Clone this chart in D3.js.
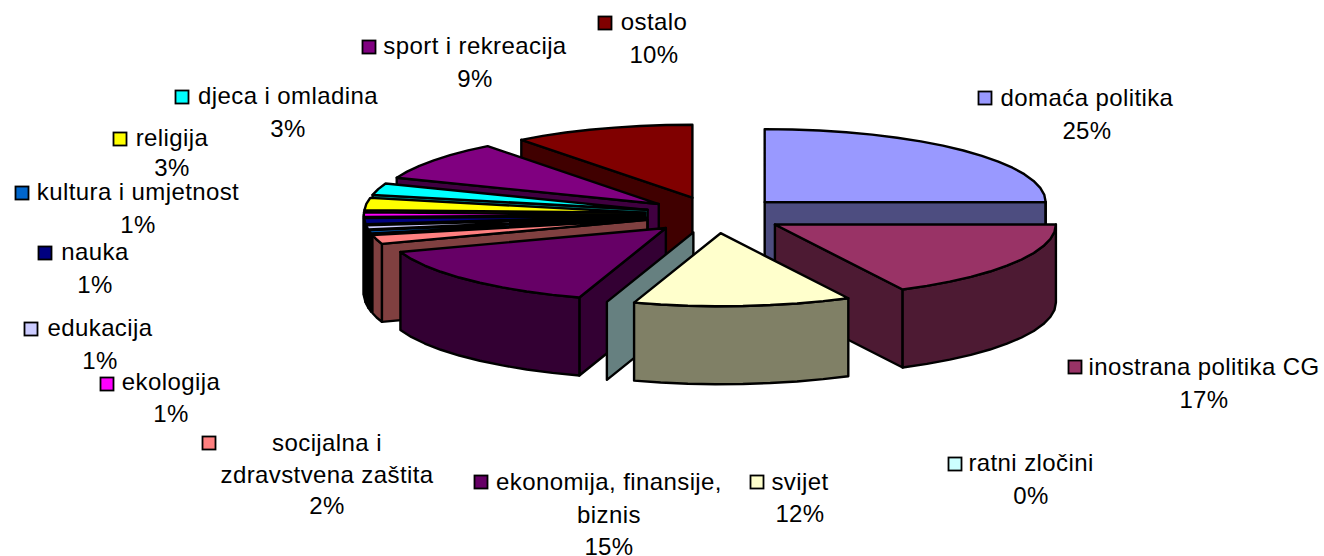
<!DOCTYPE html>
<html><head><meta charset="utf-8">
<script src="https://cdn.jsdelivr.net/npm/d3@7"></script>
<style>html,body{margin:0;padding:0;background:#fff}svg{display:block}text{font-family:"Liberation Sans",Arial,sans-serif;font-size:24px;letter-spacing:0.4px;fill:#000}</style>
</head><body><svg id="c" width="1324" height="556"></svg>
<script>
const categories=["domaća politika","inostrana politika CG","svijet","ratni zločini","ekonomija, finansije, biznis","socijalna i zdravstvena zaštita","kultura i umjetnost","edukacija","nauka","ekologija","religija","djeca i omladina","sport i rekreacija","ostalo"];
const values=[25.0,17.49,12.49,0,14.7,2.0,0.7,0.9,1.3,1.0,2.7,2.6,8.7,10.42];
const colors=["#9999FF","#993366","#FFFFCC","#CCFFFF","#660066","#FF8080","#0066CC","#CCCCFF","#000080","#FF00FF","#FFFF00","#00FFFF","#800080","#800000"];
// label layout: [text centre x, first baseline, key centre x, key centre y, line step]
const labelLayout=[[1087,106,985,98,32.5],[1204,375,1075,367,32.5],[800,490,757,482,32],[1031,471,955,464,32.5],[609,490,481,482,32.5],[327,451,209,443,31.5],[138,200,22,193,32.5],[100,336,31,329,32.5],[95,260,45,253,32.5],[171,390,107,384,32],[172,146,120,139,30],[288,104,182,97,33],[475,54,369,47,33],[654,30,605,23,33]];
const wrapped={4:["ekonomija, finansije,","biznis"],5:["socijalna i","zdravstvena zaštita"]};

const cx=715,cy=215,rx=281,ry=73,depth=78,explode=0.25,step=6*Math.PI/180;
const X=d3.scaleLinear().domain([-1,1]).range([cx-rx,cx+rx]);
const Y=d3.scaleLinear().domain([-1,1]).range([cy-ry,cy+ry]);
const svg=d3.select("#c");
const total=d3.sum(values);
const arcs=d3.pie().sort(null).value(d=>d)(values).map((d,i)=>({...d,i}));
const line=d3.line();
const P=(dx,dy,a,r,h)=>[X(dx+r*Math.sin(a)),Y(dy-r*Math.cos(a))+h];
function rim(a0,a1,dx,dy,h){const pts=[];const n=Math.max(1,Math.ceil((a1-a0)/step));for(let k=0;k<=n;k++)pts.push(P(dx,dy,a0+(a1-a0)*k/n,1,h));return pts;}
const painter=arcs.slice().sort((p,q)=>{const m=d=>(d.startAngle+d.endAngle)/2;return -Math.cos(m(p))+Math.cos(m(q));});
const dark=c=>{const k=d3.rgb(c);return d3.rgb(k.r/2,k.g/2,k.b/2).formatHex();};
painter.forEach(d=>{
  const m=(d.startAngle+d.endAngle)/2,dx=explode*Math.sin(m),dy=-explode*Math.cos(m);
  const g=svg.append("g").attr("stroke","#000").attr("stroke-width",2.4).attr("stroke-linejoin","round");
  const side=dark(colors[d.i]),a=d.startAngle,b=d.endAngle;
  const apex=P(dx,dy,0,0,0),apexB=P(dx,dy,0,0,depth);
  const quad=t=>g.append("path").attr("fill",side).attr("d",line([apex,P(dx,dy,t,1,0),P(dx,dy,t,1,depth),apexB])+"Z");
  if(Math.sin(a)<-1e-6)quad(a);
  if(Math.sin(b)>1e-6)quad(b);
  const r0=Math.max(a,Math.PI/2),r1=Math.min(b,Math.PI*3/2);
  if(r1>r0){g.append("path").attr("fill",side).attr("d",line([...rim(r0,r1,dx,dy,0),...rim(r0,r1,dx,dy,depth).reverse()])+"Z");}
  if(b>a)g.append("path").attr("fill",colors[d.i]).attr("d",line([apex,...rim(a,b,dx,dy,0)])+"Z");
});
categories.forEach((name,i)=>{
  const [tx,by,kx,ky,lineStep]=labelLayout[i];
  svg.append("rect").attr("x",kx-6.5).attr("y",ky-6.5).attr("width",13).attr("height",13).attr("fill",colors[i]).attr("stroke","#000").attr("stroke-width",1.8);
  const lines=(wrapped[i]||[name]).concat([Math.round(values[i]/total*100)+"%"]);
  lines.forEach((t,k)=>svg.append("text").attr("x",tx).attr("y",by+k*lineStep).attr("text-anchor","middle").text(t));
});
</script></body></html>
